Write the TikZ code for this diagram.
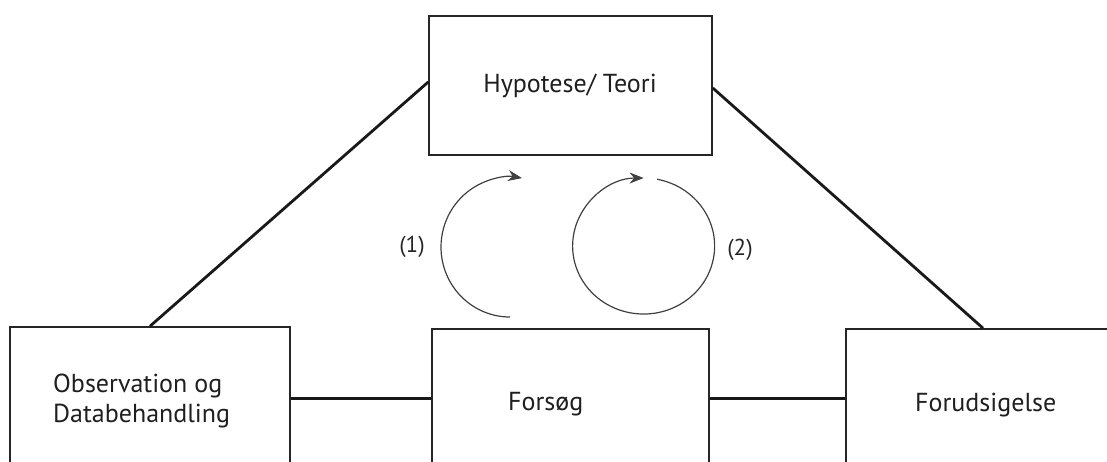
\documentclass[tikz,border=0pt]{standalone}
\usepackage{fontspec}
\setmainfont{PT Sans}
\usetikzlibrary{arrows.meta}
\begin{document}
\begin{tikzpicture}[x=1pt,y=-1pt,
  box/.style={draw=black!85, line width=1.6pt, minimum width=#1, minimum height=139pt, inner sep=0pt},
  txt/.style={text=black!88, font=\fontsize{26}{30}\selectfont, inner sep=0pt, anchor=base west},
  lbl/.style={text=black!85, font=\fontsize{23}{25}\selectfont, inner sep=0pt},
  link/.style={draw=black!90, line width=2.8pt},
  turn/.style={draw=black!75, line width=1.2pt, -{Stealth[length=14pt,width=11pt]}}
]
\useasboundingbox (0,0) rectangle (1107,461);
\clip (0,0) rectangle (1107,461);
\node[box=283pt] (top) at (570.5,85.5) {};
\node[box=280pt] (obs) at (150,396.5) {};
\node[box=277pt] (fors) at (570.5,398.5) {};
\node[box=274pt] (forud) at (983,398.5) {};
\node[txt, anchor=base] (ttop) at (570,92) {Hypotese/ Teori};
\node[txt] (tobs1) at (53,392) {Observation og};
\node[txt] (tobs2) at (53,422) {Databehandling};
\node[txt] (tfors) at (508,410) {Forsøg};
\node[txt] (tforud) at (915,411) {Forudsigelse};
\node[lbl] (l1) at (412,247) {(1)};
\node[lbl] (l2) at (740,250) {(2)};
\draw[link] ([yshift=3.5pt]top.west) -- (obs.north);
\draw[link] ([yshift=-2.5pt]top.east) -- (forud.north);
\draw[link] ([yshift=-2pt]obs.east) -- ([yshift=-2pt]obs.east -| fors.west);
\draw[link] (fors.east) -- (forud.west);
\coordinate (c1) at (510,247);
\coordinate (c2) at (644,247);
\draw[turn] ([shift={(90:70)}]c1) arc[start angle=90, end angle=280, x radius=69, y radius=70];
\draw[turn] ([shift={(281:69)}]c2) arc[start angle=281, end angle=630, x radius=71, y radius=68];
\end{tikzpicture}
\end{document}
